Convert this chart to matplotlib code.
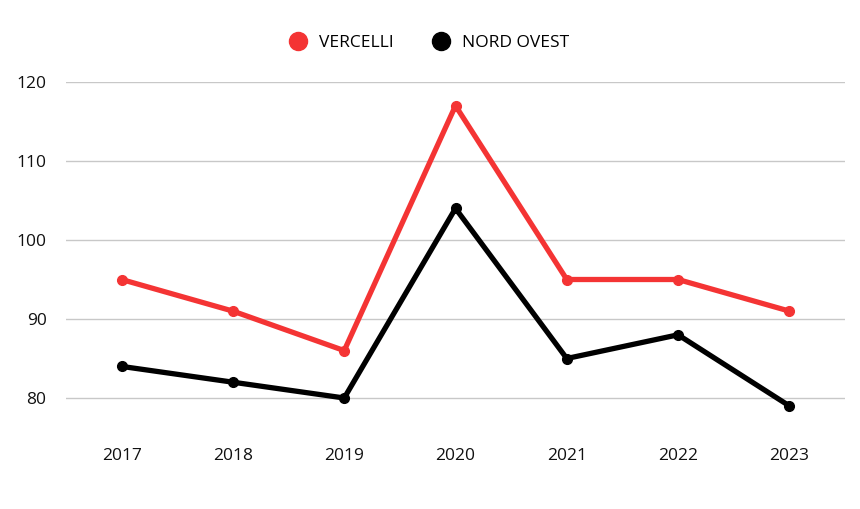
import matplotlib.pyplot as plt
from matplotlib.lines import Line2D

plt.rcParams['font.family'] = ['Open Sans', 'DejaVu Sans']

years = [2017, 2018, 2019, 2020, 2021, 2022, 2023]
vercelli = [95, 91, 86, 117, 95, 95, 91]
nord_ovest = [84, 82, 80, 104, 85, 88, 79]
yticks = [80, 90, 100, 110, 120]

red = '#F43434'
black = '#000000'

fig = plt.figure(figsize=(8.6, 5.09), dpi=100)
ax = fig.add_axes([66/860, 1-429.6/509, (845-66)/860, (429.6-82)/509])

ax.plot(years, vercelli, color=red, lw=3.8, marker='o', ms=7, clip_on=False, zorder=3)
ax.plot(years, nord_ovest, color=black, lw=3.8, marker='o', ms=7, clip_on=False, zorder=3)

ax.set_xlim(2016.5, 2023.5)
ax.set_ylim(76, 120)
ax.set_yticks(yticks)
ax.set_xticks(years)
ax.grid(axis='y', color='#c8c8c8', lw=1)
ax.set_axisbelow(True)
for s in ax.spines.values():
    s.set_visible(False)
ax.tick_params(axis='both', length=0, labelsize=12.5, colors='#111111')
ax.tick_params(axis='y', pad=14)
ax.tick_params(axis='x', pad=13)

handles = [Line2D([], [], color=red, marker='o', ls='', ms=13),
           Line2D([], [], color=black, marker='o', ls='', ms=13)]
fig.legend(handles, ['VERCELLI', 'NORD OVEST'], loc='center', bbox_to_anchor=(0.494, 1-43/509),
           ncol=2, frameon=False, fontsize=12.5, handletextpad=0.2, columnspacing=1.7)

fig.savefig('out.png', dpi=100)
